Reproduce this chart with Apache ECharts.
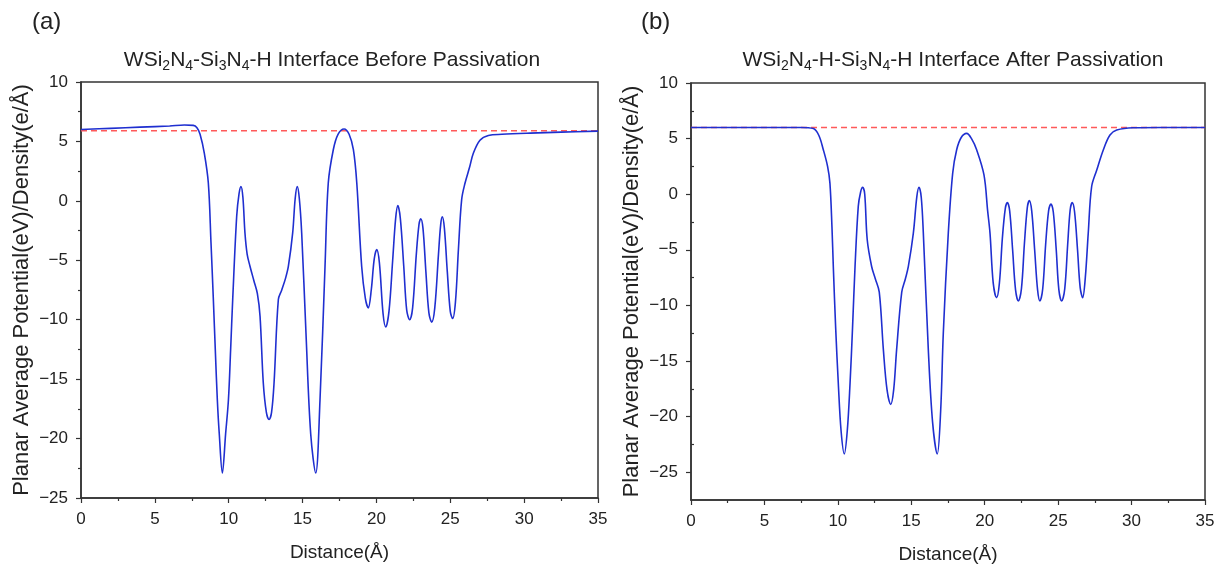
<!DOCTYPE html>
<html><head><meta charset="utf-8">
<script src="https://cdn.jsdelivr.net/npm/echarts@6/dist/echarts.min.js"></script>
<style>html,body{margin:0;padding:0;background:#fff}#c{width:1223px;height:569px}</style>
</head><body><div id="c"></div>
<script>
// ---- data ----
const leftX = [0,2,4,6,7,7.6,7.85,8.06,8.35,8.62,8.8,8.96,9.1,9.23,9.36,9.57,9.79,9.98,10.13,10.27,10.54,10.7,10.83,10.96,11.1,11.25,11.44,11.7,11.94,12.12,12.34,12.55,12.73,12.9,13.07,13.36,13.59,13.85,14.04,14.33,14.5,14.64,14.78,14.94,15.23,15.55,15.89,16.18,16.52,16.74,17.08,17.4,17.81,18.15,18.44,18.67,19.0,19.25,19.45,19.65,19.85,20.02,20.2,20.45,20.63,20.85,21.1,21.3,21.45,21.62,21.85,22.05,22.25,22.45,22.7,22.88,23.0,23.15,23.35,23.55,23.74,23.95,24.2,24.35,24.46,24.6,24.8,25.0,25.16,25.35,25.55,25.77,26.0,26.3,26.56,27.01,27.58,28.5,30.4,32.5,35];
const leftY = [6.0,6.1,6.2,6.3,6.38,6.35,6.15,5.6,4.0,1.5,-3.5,-8.3,-12.8,-16.75,-19.6,-22.9,-19.6,-16.75,-12.5,-8.3,-1.3,0.6,1.2,0.3,-2.7,-4.5,-5.5,-6.7,-7.8,-9.7,-15.3,-17.8,-18.4,-17.8,-15.3,-8.3,-7.5,-6.5,-5.5,-2.7,0.2,1.2,0.2,-2.7,-11.1,-19.6,-22.9,-16.75,-5.5,1.5,4.3,5.6,6.05,5.6,4.3,1.5,-5.5,-8.2,-9.0,-7.5,-4.9,-4.1,-5.2,-9.5,-10.6,-9.3,-5.0,-1.5,-0.4,-1.5,-5.5,-9.2,-10.0,-9.0,-4.5,-2.0,-1.5,-2.3,-6.0,-9.4,-10.2,-9.0,-4.5,-2.0,-1.35,-2.3,-6.0,-9.3,-9.9,-8.5,-4.1,0.1,1.5,2.8,4.0,5.1,5.5,5.6,5.7,5.78,5.87];
const rightX = [0,5,7.5,8.33,8.7,9.01,9.3,9.46,9.6,9.69,9.85,10.03,10.22,10.44,10.64,10.83,11.0,11.17,11.39,11.55,11.69,11.83,12.0,12.3,12.55,12.82,13.1,13.35,13.6,13.8,14.0,14.35,14.6,14.8,15.14,15.38,15.53,15.68,15.82,16.16,16.45,16.77,17.0,17.18,17.52,17.82,18.09,18.4,18.77,19.1,19.45,19.95,20.2,20.36,20.58,20.81,21.0,21.2,21.4,21.54,21.7,21.9,22.1,22.29,22.5,22.7,22.9,23.04,23.2,23.4,23.6,23.76,23.95,24.15,24.35,24.51,24.67,24.87,25.05,25.24,25.45,25.65,25.82,25.96,26.12,26.32,26.5,26.67,26.85,27.05,27.28,27.63,28.08,28.53,28.99,30.1,32,35];
const rightY = [6.0,6.0,6.0,5.9,5.3,4.0,2.5,1.0,-3.0,-6.5,-12.0,-17.0,-21.3,-23.36,-21.3,-17.0,-12.0,-6.5,-1.1,0.2,0.62,0.0,-4.1,-6.5,-7.6,-8.8,-14.0,-17.6,-18.9,-17.6,-14.0,-8.8,-7.6,-6.5,-3.5,-0.2,0.62,-0.3,-3.5,-14.0,-20.5,-23.36,-19.5,-12.5,-3.5,1.9,4.0,5.1,5.47,5.0,4.0,1.73,-1.5,-3.5,-8.0,-9.3,-8.0,-4.0,-1.3,-0.76,-1.5,-5.0,-8.6,-9.6,-8.5,-4.5,-1.2,-0.58,-1.5,-5.0,-8.6,-9.6,-8.5,-4.5,-1.5,-0.88,-1.6,-5.0,-8.6,-9.6,-8.5,-4.5,-1.4,-0.76,-1.6,-5.0,-8.4,-9.3,-7.5,-3.5,0.67,2.18,4.0,5.32,5.77,5.98,6.0,6.0];
const leftRef = 5.9;
const rightRef = 6.0;
const rightYTicks = [-25,-20,-15,-10,-5,0,5,10];
const rightYMinor = [-22.5,-17.5,-12.5,-7.5,-2.5,2.5,7.5];
const titleLeft = '{n|WSi}{s|2}{n|N}{s|4}{n|-Si}{s|3}{n|N}{s|4}{n|-H Interface Before Passivation}';
const titleRight = '{n|WSi}{s|2}{n|N}{s|4}{n|-H-Si}{s|3}{n|N}{s|4}{n|-H Interface After Passivation}';
const xName = 'Distance(Å)';
const yName = 'Planar Average Potential(eV)/Density(e/Å)';

// ---- chart ----
const FONT = 'Liberation Sans';
const TXT = '#222';
const AX = '#333';
const zip = (xs, ys) => xs.map((x, i) => [x, ys[i]]);
const fmt = v => (v < 0 ? '\u2212' + Math.abs(v) : String(v));
const chart = echarts.init(document.getElementById('c'), null, {renderer: 'canvas'});
const rich = {
  n: {fontSize: 21, fontFamily: FONT, fontWeight: 'normal', color: TXT, lineHeight: 26, verticalAlign: 'middle'},
  s: {fontSize: 14, fontFamily: FONT, fontWeight: 'normal', color: TXT, lineHeight: 26, verticalAlign: 'bottom', padding: [12, 0, 0, 0]}
};
function xAx(g) {
  return {
    type: 'value', gridIndex: g, min: 0, max: 35, interval: 5,
    name: xName, nameLocation: 'middle', nameGap: 45,
    nameTextStyle: {fontSize: 19, fontFamily: FONT, color: TXT},
    axisLine: {onZero: false, lineStyle: {color: AX, width: 1.5}},
    axisTick: {length: 5, lineStyle: {color: AX, width: 1.2}},
    minorTick: {show: true, splitNumber: 2, length: 3, lineStyle: {color: AX, width: 1.2}},
    axisLabel: {fontSize: 17, fontFamily: FONT, color: TXT, margin: 13},
    splitLine: {show: false}
  };
}
const option = {
  animation: false,
  backgroundColor: '#fff',
  title: [
    {text: '(a)', left: 27, top: 5, textStyle: {fontSize: 24, fontWeight: 'normal', fontFamily: FONT, color: TXT}},
    {text: '(b)', left: 636, top: 5, textStyle: {fontSize: 24, fontWeight: 'normal', fontFamily: FONT, color: TXT}},
    {text: titleLeft, left: 327, top: 42, textAlign: 'center', textStyle: {rich: rich}},
    {text: titleRight, left: 948, top: 42, textAlign: 'center', textStyle: {rich: rich}}
  ],
  grid: [
    {left: 81, top: 82, width: 517, height: 416, show: true, borderColor: AX, borderWidth: 1.5, containLabel: false},
    {left: 691, top: 83, width: 514, height: 417, show: true, borderColor: AX, borderWidth: 1.5, containLabel: false}
  ],
  xAxis: [xAx(0), xAx(1)],
  yAxis: [
    {
      type: 'value', gridIndex: 0, min: -25, max: 10, interval: 5,
      name: yName, nameLocation: 'middle', nameGap: 48,
      nameTextStyle: {fontSize: 22, fontFamily: FONT, color: TXT},
      axisLine: {show: true, onZero: false, lineStyle: {color: AX, width: 1.5}},
      axisTick: {show: true, length: 5, lineStyle: {color: AX, width: 1.2}},
      minorTick: {show: true, splitNumber: 2, length: 3, lineStyle: {color: AX, width: 1.2}},
      axisLabel: {fontSize: 17, fontFamily: FONT, color: TXT, margin: 13, formatter: fmt},
      splitLine: {show: false}
    },
    {
      type: 'value', gridIndex: 1, min: -27.5, max: 10,
      name: yName, nameLocation: 'middle', nameGap: 48,
      nameTextStyle: {fontSize: 22, fontFamily: FONT, color: TXT},
      axisLine: {show: true, onZero: false, lineStyle: {color: AX, width: 1.5}},
      axisTick: {show: true, length: 5, customValues: rightYTicks, lineStyle: {color: AX, width: 1.2}},
      axisLabel: {fontSize: 17, fontFamily: FONT, color: TXT, margin: 13, customValues: rightYTicks, formatter: fmt},
      splitLine: {show: false}
    },
    {
      type: 'value', gridIndex: 1, min: -27.5, max: 10,
      axisLine: {show: false},
      axisTick: {show: true, length: 3, customValues: rightYMinor, lineStyle: {color: AX, width: 1.2}},
      axisLabel: {show: false, customValues: rightYMinor},
      splitLine: {show: false}
    }
  ],
  series: [
    {type: 'line', xAxisIndex: 0, yAxisIndex: 0, data: [[0, leftRef], [35, leftRef]], showSymbol: false, silent: true,
     lineStyle: {color: '#ff5a5a', width: 1.5, type: [6, 4]}, z: 1},
    {type: 'line', xAxisIndex: 0, yAxisIndex: 0, data: zip(leftX, leftY), showSymbol: false, smooth: 0.35,
     lineStyle: {color: '#1f2fd0', width: 1.6}, z: 2},
    {type: 'line', xAxisIndex: 1, yAxisIndex: 1, data: [[0, rightRef], [35, rightRef]], showSymbol: false, silent: true,
     lineStyle: {color: '#ff5a5a', width: 1.5, type: [6, 4]}, z: 1},
    {type: 'line', xAxisIndex: 1, yAxisIndex: 1, data: zip(rightX, rightY), showSymbol: false, smooth: 0.35,
     lineStyle: {color: '#1f2fd0', width: 1.6}, z: 2}
  ]
};
chart.setOption(option);
</script>
</body></html>
